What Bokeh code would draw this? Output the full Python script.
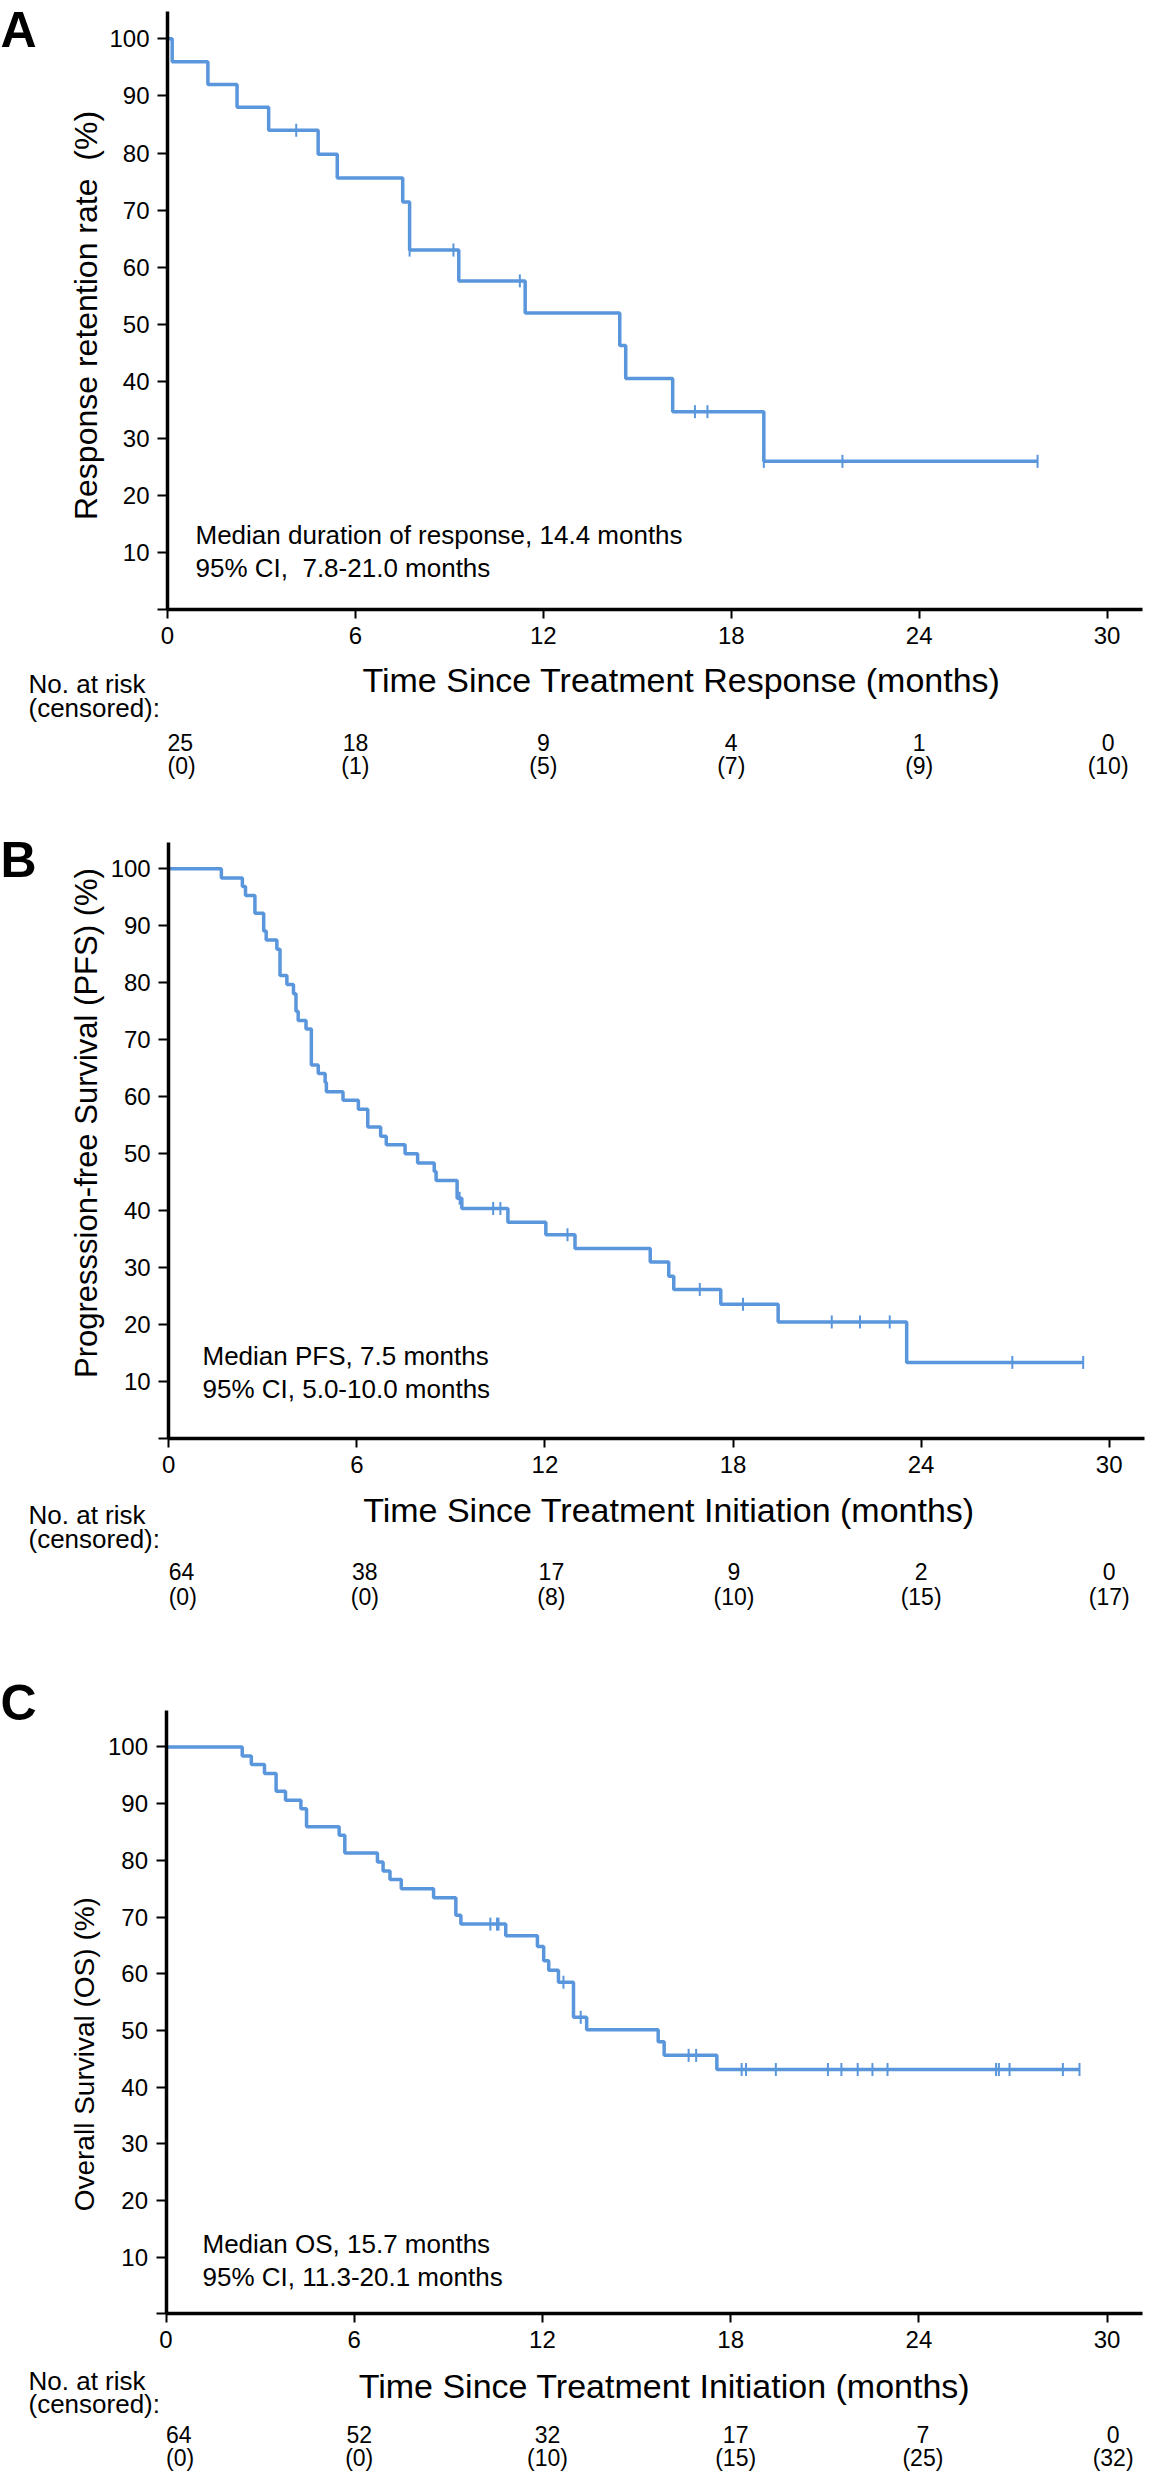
import numpy as np
from bokeh.plotting import figure
from bokeh.layouts import column
from bokeh.models import Label, FixedTicker, Range1d, LinearAxis
from bokeh.embed import file_html
from bokeh.resources import INLINE

# ---------------- data ----------------
x_ticks = [0, 6, 12, 18, 24, 30]
y_ticks = [0, 10, 20, 30, 40, 50, 60, 70, 80, 90, 100]

# Panel A: duration of response
a_event_months = [0.15, 1.29, 2.22, 3.23, 4.81, 5.42, 7.51, 7.73, 9.30, 11.42,
                  14.44, 14.63, 16.13, 19.04]
a_event_surv = [96.0, 92.0, 88.0, 84.0, 79.8, 75.6, 71.4, 63.0, 57.6, 52.0,
                46.3, 40.5, 34.7, 26.0]
a_censor_months = [4.11, 7.73, 9.13, 11.25, 16.84, 17.24, 19.04, 21.55, 27.78]
a_risk_n = [25, 18, 9, 4, 1, 0]
a_risk_censored = [0, 1, 5, 7, 9, 10]

# Panel B: progression-free survival
b_event_months = [1.68, 2.35, 2.45, 2.75, 3.03, 3.11, 3.45, 3.55, 3.77, 3.98,
                  4.06, 4.13, 4.38, 4.55, 4.77, 4.99, 5.03, 5.56, 6.05, 6.35,
                  6.76, 6.94, 7.54, 7.94, 8.47, 8.53, 9.20, 9.35, 10.82, 12.03,
                  12.96, 15.36, 15.95, 16.11, 17.61, 19.44, 23.54]
b_event_surv = [98.4, 96.9, 95.3, 92.2, 89.1, 87.5, 85.9, 81.3, 79.7, 78.1,
                75.0, 73.4, 71.9, 65.6, 64.1, 62.5, 60.9, 59.4, 57.8, 54.7,
                53.1, 51.6, 50.0, 48.4, 46.9, 45.3, 42.2, 40.4, 38.0, 35.8,
                33.4, 31.0, 28.5, 26.2, 23.6, 20.5, 13.4]
b_censor_months = [9.28, 10.35, 10.58, 12.72, 16.94, 18.32, 21.15, 22.05, 23.0,
                   26.91, 29.17]
b_risk_n = [64, 38, 17, 9, 2, 0]
b_risk_censored = [0, 0, 8, 10, 15, 17]

# Panel C: overall survival
c_event_months = [2.43, 2.72, 3.14, 3.51, 3.81, 4.30, 4.48, 5.52, 5.70, 6.74,
                  6.92, 7.14, 7.50, 8.53, 9.24, 9.40, 10.83, 11.84, 12.04, 12.20,
                  12.51, 12.99, 13.41, 15.69, 15.88, 17.56]
c_event_surv = [98.4, 96.9, 95.3, 92.2, 90.6, 89.1, 85.9, 84.4, 81.3, 79.7,
                78.1, 76.6, 75.0, 73.4, 70.3, 68.75, 66.7, 64.8, 62.3, 60.6,
                58.5, 52.3, 50.1, 48.0, 45.6, 43.1]
c_censor_months = [10.34, 10.55, 10.60, 12.67, 13.22, 16.66, 16.90, 18.35, 18.49,
                   19.44, 21.10, 21.53, 22.05, 22.52, 23.0, 26.46, 26.55, 26.89,
                   28.59, 29.12]
c_risk_n = [64, 52, 32, 17, 7, 0]
c_risk_censored = [0, 0, 10, 15, 25, 32]

FONT = "Liberation Sans"
BLUE = "#5a96dc"
PAGE_W = 1158
X_MAX = 31.13
NBSP = "\u00a0"
BASE_FIX = 0.36   # baseline correction for Label text, in em


def surv_at(t, ev_t, ev_s):
    s = 100.0
    for et, es in zip(ev_t, ev_s):
        if et <= t + 1e-9:
            s = es
    return s


def build_panel(cfg):
    H = cfg["height"]
    top = cfg["canvas_top"]
    x0, ppx = cfg["x0"], cfg["ppx"]
    axis_ref, ppu = cfg["axis_ref"], cfg["ppu"]
    ymax = cfg["ymax"]

    def X(ref_x):
        return (ref_x - x0) / ppx

    def Y(ref_y):
        return (axis_ref - ref_y) / ppu

    p = figure(width=PAGE_W, height=H,
               x_range=Range1d(X(0), X(PAGE_W)), y_range=Range1d(Y(top + H), Y(top)),
               output_backend="svg", toolbar_location=None,
               x_axis_location=None, y_axis_location=None,
               min_border=0, min_border_left=0, min_border_right=0,
               min_border_top=0, min_border_bottom=0,
               background_fill_color="white", border_fill_color="white")
    p.outline_line_color = None
    p.grid.visible = False
    p.title.visible = False

    xaxis = LinearAxis(fixed_location=0, bounds=(0, X_MAX),
                       ticker=FixedTicker(ticks=x_ticks))
    yaxis = LinearAxis(fixed_location=0, bounds=(0, ymax),
                       ticker=FixedTicker(ticks=y_ticks))
    yaxis.major_label_overrides = {0: ""}
    for ax in (xaxis, yaxis):
        ax.axis_line_width = 3.5
        ax.axis_line_color = "black"
        ax.major_tick_line_width = 2
        ax.major_tick_line_color = "black"
        ax.major_tick_in = 0
        ax.minor_tick_line_color = None
        ax.major_label_text_font = FONT
        ax.major_label_text_font_size = "24px"
        ax.major_label_text_color = "black"
    xaxis.major_tick_out = 9
    yaxis.major_tick_out = 10
    xaxis.major_label_standoff = 8
    yaxis.major_label_standoff = 8
    p.add_layout(xaxis, "below")
    p.add_layout(yaxis, "left")

    ev_t, ev_s, cens = cfg["ev_t"], cfg["ev_s"], cfg["cens"]
    xs = [0.0] + list(ev_t) + [max(cens)]
    ys = [100.0] + list(ev_s) + [ev_s[-1]]
    p.step(xs, ys, mode="after", line_color=BLUE, line_width=3.5)
    cy = [surv_at(t, ev_t, ev_s) for t in cens]
    p.scatter(cens, cy, marker="dash", size=13, angle=np.pi / 2,
              line_color=BLUE, line_width=2)

    def lab(x, y, text, fs, align="left", bold=False, rotated=False):
        # x, y in data units (baseline anchor); fs in px
        if rotated:
            x = x - BASE_FIX * fs / ppx
        else:
            y = y + BASE_FIX * fs / ppu
        p.add_layout(Label(x=x, y=y, text=text, text_font=FONT,
                           text_font_size="%dpx" % fs, text_align=align,
                           text_baseline="alphabetic", text_color="black",
                           angle=np.pi / 2 if rotated else 0.0,
                           text_font_style="bold" if bold else "normal"))

    o = cfg["off"]
    lab(X(0), Y(cfg["letter_base"]), cfg["letter"], 50, bold=True)
    lab(X(cfg["ytitle_x"]), Y(cfg["ytitle_cy"]), cfg["ytitle"], cfg["ytitle_size"],
        align="center", rotated=True)
    lab(X(cfg["note_x"]), Y(axis_ref + o["note1"]), cfg["note1"], 26)
    lab(X(cfg["note_x"]), Y(axis_ref + o["note2"]), cfg["note2"], 26)
    lab(X(cfg["xtitle_cx"]), Y(axis_ref + o["xtitle"]), cfg["xtitle"], 34,
        align="center")
    lab(X(28), Y(axis_ref + o["risk_h1"]), "No. at risk", 26)
    lab(X(28), Y(axis_ref + o["risk_h2"]), "(censored):", 26)
    dx = cfg["risk_dx"]
    for i, (t, n, c) in enumerate(zip(x_ticks, cfg["risk_n"], cfg["risk_c"])):
        al = "left" if i == 0 else "center"
        xx = t + dx[i] / ppx
        lab(xx, Y(axis_ref + o["row1"]), str(n), 23, align=al)
        lab(xx, Y(axis_ref + o["row2"]), "(%d)" % c, 23, align=al)
    return p


cfg_a = dict(canvas_top=0, height=805, x0=167.0, ppx=31.32, axis_ref=609.3, ppu=5.71,
             ymax=104.7,
             ev_t=a_event_months, ev_s=a_event_surv, cens=a_censor_months,
             risk_n=a_risk_n, risk_c=a_risk_censored, risk_dx=[0, 0, 0, 0, 0, 1],
             letter="A", letter_base=47,
             ytitle="Response retention rate" + NBSP + " (%)", ytitle_x=97, ytitle_cy=315,
             ytitle_size=32,
             note1="Median duration of response, 14.4 months",
             note2="95% CI," + NBSP + " 7.8-21.0 months", note_x=195,
             xtitle="Time Since Treatment Response (months)", xtitle_cx=681,
             off=dict(note1=-65.3, note2=-32.6, xtitle=82.7, risk_h1=83.4,
                      risk_h2=107.4, row1=140.7, row2=164))

cfg_b = dict(canvas_top=805, height=845, x0=168.2, ppx=31.35, axis_ref=1438.3, ppu=5.70,
             ymax=104.7,
             ev_t=b_event_months, ev_s=b_event_surv, cens=b_censor_months,
             risk_n=b_risk_n, risk_c=b_risk_censored, risk_dx=[0, 8, 6.5, 1, 0, 0],
             letter="B", letter_base=877,
             ytitle="Progresssion-free Survival (PFS) (%)", ytitle_x=97, ytitle_cy=1122.6,
             ytitle_size=31,
             note1="Median PFS, 7.5 months",
             note2="95% CI, 5.0-10.0 months", note_x=202,
             xtitle="Time Since Treatment Initiation (months)", xtitle_cx=668.5,
             off=dict(note1=-73, note2=-40.7, xtitle=83.4, risk_h1=85.4,
                      risk_h2=109.4, row1=141, row2=166.5))

cfg_c = dict(canvas_top=1650, height=828, x0=165.5, ppx=31.37, axis_ref=2313.4, ppu=5.67,
             ymax=106.4,
             ev_t=c_event_months, ev_s=c_event_surv, cens=c_censor_months,
             risk_n=c_risk_n, risk_c=c_risk_censored, risk_dx=[0, 5, 5, 5, 4, 6],
             letter="C", letter_base=1720,
             ytitle="Overall Survival (OS) (%)", ytitle_x=94, ytitle_cy=2053.7,
             ytitle_size=28,
             note1="Median OS, 15.7 months",
             note2="95% CI, 11.3-20.1 months", note_x=202,
             xtitle="Time Since Treatment Initiation (months)", xtitle_cx=664,
             off=dict(note1=-61, note2=-27.8, xtitle=84.6, risk_h1=76.2,
                      risk_h2=99.6, row1=129, row2=152))

layout = column(build_panel(cfg_a), build_panel(cfg_b), build_panel(cfg_c), spacing=0)

open("out.html", "w").write(file_html(layout, INLINE))
